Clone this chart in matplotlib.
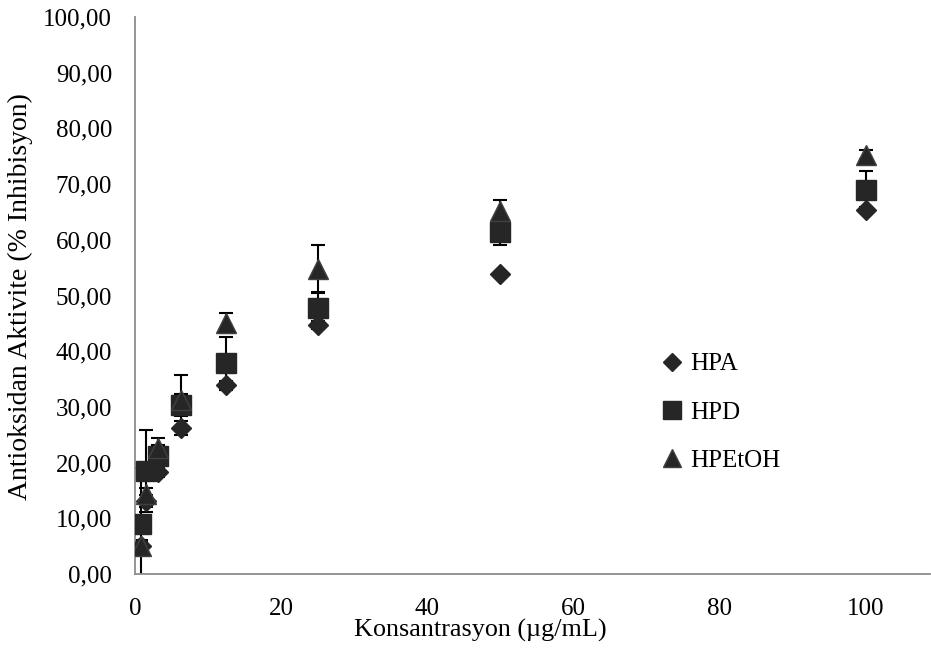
import matplotlib
matplotlib.use("Agg")
import matplotlib.pyplot as plt
from matplotlib.ticker import FuncFormatter

plt.rcParams['font.family'] = ['Liberation Serif', 'DejaVu Serif']

conc = [0.78, 1.56, 3.125, 6.25, 12.5, 25, 50, 100]
hpa = [5.0, 13.1, 18.3, 26.2, 33.9, 44.7, 53.8, 65.3]
hpd = [9.0, 18.5, 21.2, 30.4, 37.8, 47.8, 61.4, 69.0]
hpetoh = [5.1, 14.4, 22.7, 31.2, 45.1, 54.7, 65.2, 75.3]
hpa_err = [0.8, 1.0, 0.8, 1.3, 0.8, 0.8, 0.5, 0.5]
hpd_err = [10.0, 7.3, 2.0, 2.0, 4.8, 2.8, 2.4, 3.4]
hpetoh_err = [1.0, 1.0, 1.8, 4.6, 1.8, 4.3, 2.0, 0.8]

series = [
    ("HPA", hpa, hpa_err, "D", 10.2, "#262626", "#262626"),
    ("HPD", hpd, hpd_err, "s", 14.5, "#262626", "#262626"),
    ("HPEtOH", hpetoh, hpetoh_err, "^", 14.5, "#262626", "#404040"),
]

fig = plt.figure(figsize=(9.31, 6.51), dpi=100)
ax = fig.add_axes([135/931, 1-574/651, (930-135)/931, (574-17)/651])

for label, y, e, m, ms, fc, ec in series:
    ax.errorbar(conc, y, yerr=e, fmt="none", ecolor="black", elinewidth=1.5,
                capsize=4.7, capthick=1.5, zorder=2)
for label, y, e, m, ms, fc, ec in series:
    ax.plot(conc, y, linestyle="none", marker=m, markersize=ms,
            markerfacecolor=fc, markeredgecolor=ec, markeredgewidth=1.0,
            label=label, zorder=3)

ax.set_xlim(0, 108.8)
ax.set_ylim(0, 100)
ax.set_xticks([0, 20, 40, 60, 80, 100])
ax.set_yticks(range(0, 101, 10))
ax.yaxis.set_major_formatter(FuncFormatter(lambda v, p: f"{v:.2f}".replace(".", ",")))
ax.tick_params(length=0, labelsize=18, colors="black")
ax.tick_params(axis="y", pad=16.5)
ax.tick_params(axis="x", pad=17)

for s in ["top", "right"]:
    ax.spines[s].set_visible(False)
for s in ["left", "bottom"]:
    ax.spines[s].set_color("#8c8c8c")
    ax.spines[s].set_linewidth(1.3)

ax.set_xlabel("Konsantrasyon (µg/mL)", fontsize=18.8)
ax.xaxis.set_label_coords((480-135)/795, -0.081)
ax.set_ylabel("Antioksidan Aktivite (% Inhibisyon)", fontsize=20)
ax.yaxis.set_label_coords(-0.128, (574-297)/557)

leg = ax.legend(loc="upper left", bbox_to_anchor=(662/931, 1-353/651),
                bbox_transform=fig.transFigure, frameon=False, fontsize=18,
                handlelength=0.8, handletextpad=0.32, labelspacing=1.03,
                borderaxespad=0, borderpad=0, markerscale=0.85)

fig.savefig("out.png", dpi=100)
